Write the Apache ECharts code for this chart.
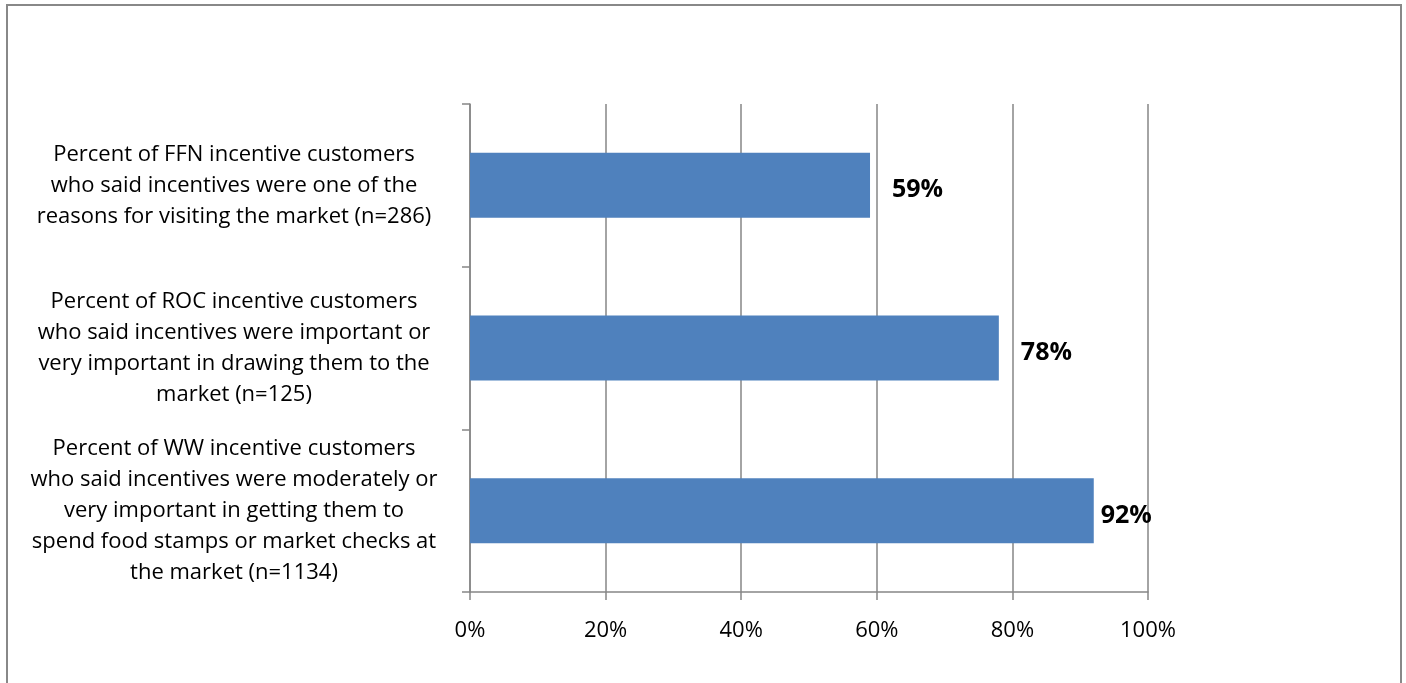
<!DOCTYPE html>
<html>
<head>
    <meta charset="utf-8"/>
    <title>Incentives</title>
    <script type="text/javascript" src="https://cdn.jsdelivr.net/npm/echarts@6/dist/echarts.min.js"></script>
    <style>
        html, body {
            margin: 0;
            padding: 0;
            background: #fff;
        }

        #frame {
            position: absolute;
            left: 6px;
            top: 4px;
            width: 1392px;
            height: 700px;
            border: 2px solid #888;
        }

        #main {
            position: absolute;
            left: 0;
            top: 0;
            width: 1406px;
            height: 683px;
        }
    </style>
</head>
<body>
<div id="frame"></div>
<div id="main"></div>

<script type="text/javascript">
    // categories, top to bottom
    let categories = [
        'Percent of FFN incentive customers\nwho said incentives were one of the\nreasons for visiting the market (n=286)',
        'Percent of ROC incentive customers\nwho said incentives were important or\nvery important in drawing them to the\nmarket (n=125)',
        'Percent of WW incentive customers\nwho said incentives were moderately or\nvery important in getting them to\nspend food stamps or market checks at\nthe market (n=1134)'
    ];
    let values = [59, 78, 92];
    let xTicks = [0, 20, 40, 60, 80, 100];

    let font = '"Open Sans", "Noto Sans", sans-serif';
    let chart = echarts.init(document.getElementById('main'), null, {renderer: 'canvas'});

    // last label sits close to the bar, as in the original
    let barData = values.map(function (v, i) {
        let item = {value: v};
        if (i === values.length - 1) {
            item.label = {distance: 7};
        }
        return item;
    });

    chart.setOption({
        animation: false,
        grid: {
            left: 470,
            right: 258,
            top: 104,
            bottom: 91,
            containLabel: false
        },
        xAxis: {
            type: 'value',
            min: xTicks[0],
            max: xTicks[xTicks.length - 1],
            interval: 20,
            axisLine: {show: true, lineStyle: {color: '#868686', width: 1.5}},
            axisTick: {show: true, length: 8, lineStyle: {color: '#868686', width: 1.5}},
            splitLine: {show: true, lineStyle: {color: '#868686', width: 1.5}},
            axisLabel: {
                margin: 28,
                color: '#000',
                fontSize: 22,
                fontFamily: font,
                formatter: '{value}%'
            }
        },
        yAxis: {
            type: 'category',
            inverse: true,
            data: categories,
            axisLine: {show: true, lineStyle: {color: '#868686', width: 1.5}},
            axisTick: {show: true, length: 8, alignWithLabel: false, lineStyle: {color: '#868686', width: 1.5}},
            splitLine: {show: false},
            axisLabel: {
                margin: 236,
                align: 'center',
                color: '#000',
                fontSize: 22,
                lineHeight: 31,
                fontFamily: font
            }
        },
        series: [{
            type: 'bar',
            data: barData,
            barCategoryGap: '60%',
            itemStyle: {color: '#4f81bd'},
            label: {
                show: true,
                position: 'right',
                distance: 22,
                offset: [0, 5],
                formatter: '{c}%',
                color: '#000',
                fontWeight: 'bold',
                fontSize: 25,
                fontFamily: font
            }
        }]
    });
</script>
</body>
</html>
